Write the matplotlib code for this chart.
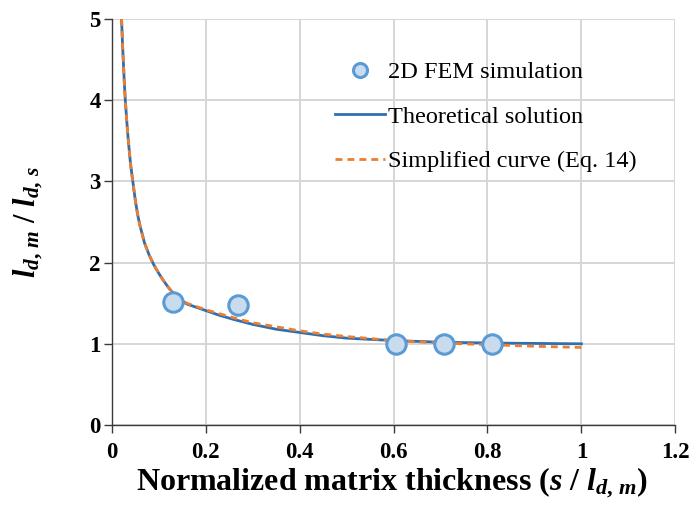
import matplotlib
matplotlib.use("Agg")
import matplotlib.pyplot as plt

plt.rcParams['font.family'] = ['Liberation Serif', 'DejaVu Serif']
plt.rcParams['mathtext.fontset'] = 'custom'
plt.rcParams['mathtext.rm'] = 'Liberation Serif:bold'
plt.rcParams['mathtext.it'] = 'Liberation Serif:italic:bold'
plt.rcParams['mathtext.bf'] = 'Liberation Serif:bold'

# FEM simulation points
fem_x = [0.13, 0.268, 0.606, 0.707, 0.809]
fem_y = [1.52, 1.48, 1.0, 1.0, 1.0]

# Theoretical solution
theo_x = [0.021, 0.023, 0.025, 0.027, 0.029, 0.032, 0.035, 0.040, 0.045, 0.050, 0.055,
          0.060, 0.070, 0.080, 0.090, 0.100, 0.110, 0.120, 0.130, 0.140, 0.160, 0.180,
          0.200, 0.230, 0.260, 0.300, 0.350, 0.400, 0.450, 0.500, 0.550, 0.600, 0.700,
          0.800, 0.900, 1.000]
theo_y = [5.00, 4.70, 4.45, 4.20, 4.00, 3.75, 3.53, 3.22, 3.00, 2.78, 2.60,
          2.46, 2.24, 2.09, 1.97, 1.87, 1.78, 1.70, 1.63, 1.57, 1.49, 1.45,
          1.41, 1.35, 1.30, 1.24, 1.18, 1.14, 1.10, 1.07, 1.055, 1.04, 1.02,
          1.01, 1.005, 1.00]

# Simplified curve (Eq. 14)
simp_x = theo_x
simp_y = [5.00, 4.70, 4.45, 4.20, 4.00, 3.75, 3.53, 3.22, 3.00, 2.78, 2.60,
          2.46, 2.24, 2.09, 1.97, 1.87, 1.78, 1.70, 1.63, 1.58, 1.50, 1.46,
          1.42, 1.37, 1.32, 1.26, 1.21, 1.16, 1.12, 1.09, 1.065, 1.04, 1.01,
          0.99, 0.97, 0.955]

xticks = [0, 0.2, 0.4, 0.6, 0.8, 1, 1.2]
xtick_labels = ['0', '0.2', '0.4', '0.6', '0.8', '1', '1.2']
yticks = [0, 1, 2, 3, 4, 5]
ytick_labels = ['0', '1', '2', '3', '4', '5']

fig = plt.figure(figsize=(6.92, 5.07), dpi=100)
ax = fig.add_axes([0.1614, 0.1617, 0.9759 - 0.1614, 0.9625 - 0.1617])

ax.set_xlim(0, 1.2)
ax.set_ylim(0, 5)
ax.set_xticks(xticks)
ax.set_xticklabels(xtick_labels)
ax.set_yticks(yticks)
ax.set_yticklabels(ytick_labels)
ax.grid(True, color='#d6d6d6', linewidth=1.4)
ax.set_axisbelow(True)

for s in ['top', 'right']:
    ax.spines[s].set_visible(False)
for s in ['left', 'bottom']:
    ax.spines[s].set_color('#3a3a3a')
    ax.spines[s].set_linewidth(1.0)
ax.tick_params(axis='both', direction='out', length=5.8, width=1.0, color='#3a3a3a',
               labelsize=16.5)
ax.tick_params(axis='x', pad=6.5)
ax.tick_params(axis='y', pad=2)
for lab in ax.get_xticklabels() + ax.get_yticklabels():
    lab.set_fontweight('bold')

ax.plot(fem_x, fem_y, 'o', markersize=14, markerfacecolor='#c9dcee',
        markeredgecolor='#5b9bd5', markeredgewidth=2.2, zorder=4,
        label='2D FEM simulation')
ax.plot(theo_x, theo_y, '-', color='#2e6fb0', linewidth=2.0, zorder=3,
        label='Theoretical solution')
ax.plot(simp_x, simp_y, '--', color='#ed7d31', linewidth=2.0, dashes=(2.5, 1.8), zorder=3,
        label='Simplified curve (Eq. 14)')

leg = ax.legend(loc='upper left', bbox_to_anchor=(0.379, 0.92), frameon=False,
                fontsize=17.5, handlelength=2.05, handletextpad=0.12, labelspacing=0.93,
                borderaxespad=0, markerscale=0.72)

ax.set_xlabel(r'Normalized matrix thickness ($s$ / $l_{d,\,m}$)', fontsize=23,
              fontweight='bold')
ax.xaxis.set_label_coords(0.497, -0.1)
ax.set_ylabel(r'$l_{d,\,m}$ / $l_{d,\,s}$', fontsize=22, fontweight='bold')
ax.yaxis.set_label_coords(-0.118, 0.5)

fig.savefig('out.png', dpi=100)
